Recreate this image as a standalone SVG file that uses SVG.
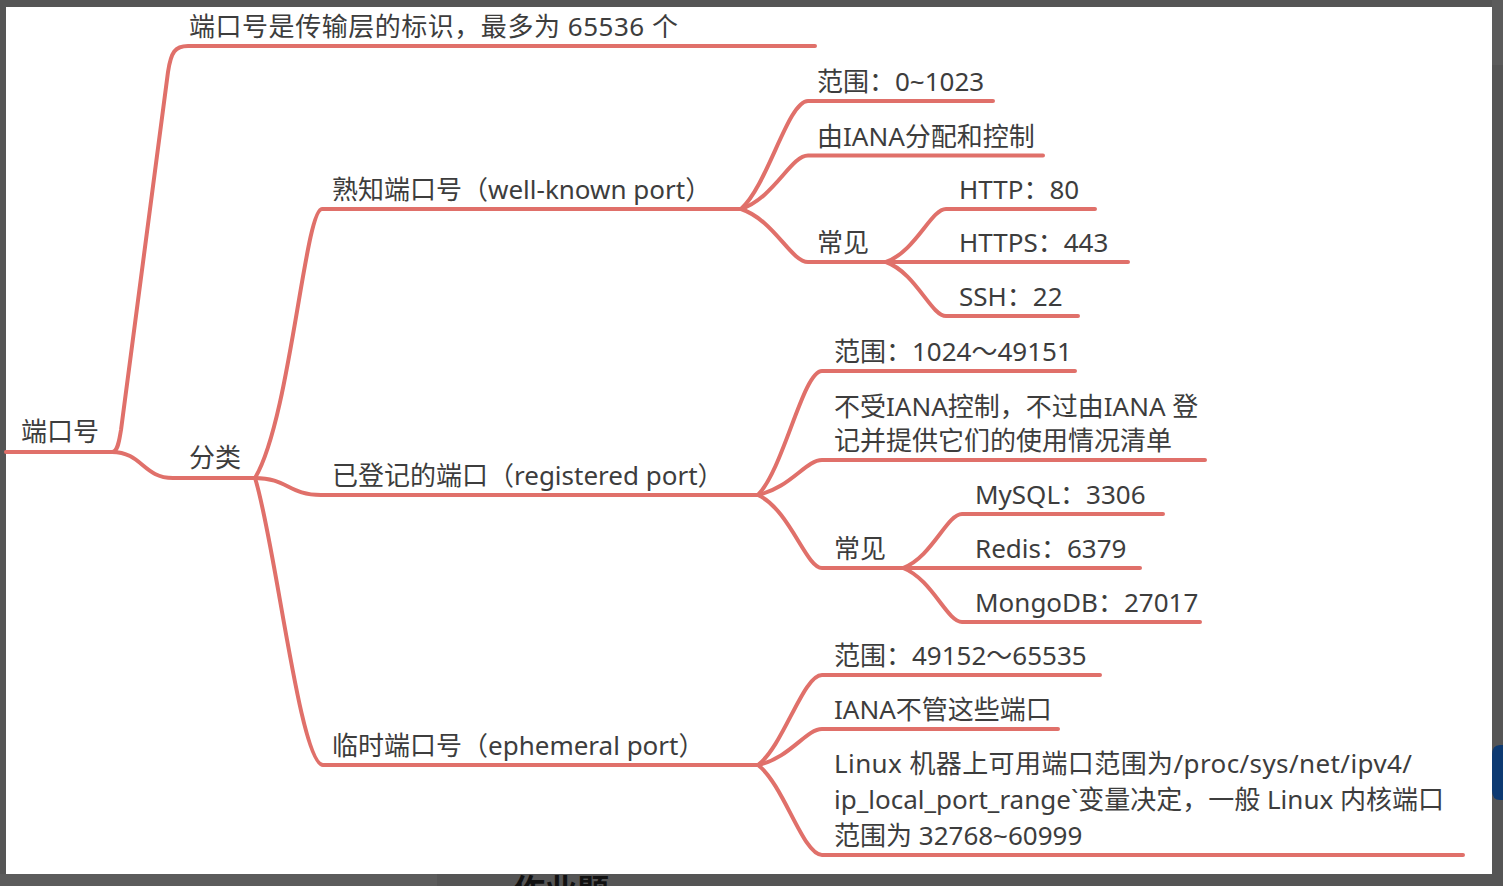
<svg xmlns="http://www.w3.org/2000/svg" width="1503" height="886" viewBox="0 0 1503 886">
<style>
.t{font-family:"Noto Sans","Noto Sans CJK SC",sans-serif;font-size:26px;fill:#3d3d3d}
.c{fill:none;stroke:#e0706a;stroke-width:4;stroke-linecap:round;stroke-linejoin:round}
</style>
<defs><clipPath id="bot"><rect x="440" y="874" width="300" height="12"/></clipPath></defs>
<g id="frame">
<rect x="0" y="0" width="1503" height="886" fill="#555555"/>
<rect x="1492" y="0" width="11" height="65" fill="#5b5b5b"/>
<rect x="0" y="874" width="437" height="12" fill="#5c5c5c"/>
<rect x="6" y="7" width="1486" height="867" fill="#ffffff"/>
<path d="M1503,745 L1500,745 Q1492,745 1492,755 L1492,790 Q1492,800 1500,800 L1503,800 Z" fill="#0d3a72"/>
<text x="513" y="902" clip-path="url(#bot)" style="font-family:'Noto Sans CJK SC',sans-serif;font-size:32px;font-weight:bold;fill:#111">作业题</text>
</g>
<g id="connectors" class="c">
<path d="M6,452 L112,452"/>
<path d="M112,452 C118,452 119,441 121,430 L168,72 C171,52 175,46 188,46 L815,46"/>
<path d="M112,452 C142,452 143,478 173,478 L255,478"/>
<path d="M255,478 C290,420 305,209 322,209 L741,209"/>
<path d="M255,478 C287,478 289,495 321,495 L758,495"/>
<path d="M255,478 C275,540 300,765 323,765 L758,765"/>
<path d="M741,209 C768,185 788,101 808,101 L993,101"/>
<path d="M741,209 C774,198 791,155.5 808,155.5 L1043,155.5"/>
<path d="M741,209 C774,220 791,262 808,262 L886,262"/>
<path d="M886,262 C916,251 931,209 946,209 L1095,209"/>
<path d="M886,262 L1128,262"/>
<path d="M886,262 C916,273 931,316 946,316 L1078,316"/>
<path d="M758,495 C784,468 803,371 822,371 L1075,371"/>
<path d="M758,495 C790,488 806,460 822,460 L1205,460"/>
<path d="M758,495 C790,510 806,568 822,568 L903,568"/>
<path d="M903,568 C932,557 947,514 962,514 L1163,514"/>
<path d="M903,568 L1140,568"/>
<path d="M903,568 C932,579 947,622 962,622 L1200,622"/>
<path d="M758,765 C784,745 803,675 822,675 L1100,675"/>
<path d="M758,765 C790,758 806,729 822,729 L1058,729"/>
<path d="M758,765 C784,785 803,855 822,855 L1463,855"/>
</g>
<g id="n-root"><text class="t" x="21" y="441">端口号</text></g>
<g id="n-def"><text class="t" x="189" y="36" textLength="489" lengthAdjust="spacing">端口号是传输层的标识，最多为 65536 个</text></g>
<g id="n-cat"><text class="t" x="189" y="467">分类</text></g>
<g id="n-wk"><text class="t" x="332" y="198.5">熟知端口号（well-known port）</text></g>
<g id="n-reg"><text class="t" x="332" y="485">已登记的端口（registered port）</text></g>
<g id="n-eph"><text class="t" x="332" y="755">临时端口号（ephemeral port）</text></g>
<g id="n-wk-range"><text class="t" x="817" y="91">范围：0~1023</text></g>
<g id="n-wk-iana"><text class="t" x="817" y="145.5">由IANA分配和控制</text></g>
<g id="n-wk-common"><text class="t" x="817" y="251.5">常见</text></g>
<g id="n-http"><text class="t" x="959" y="198.5">HTTP：80</text></g>
<g id="n-https"><text class="t" x="959" y="251.5">HTTPS：443</text></g>
<g id="n-ssh"><text class="t" x="959" y="305.5">SSH：22</text></g>
<g id="n-reg-range"><text class="t" x="834" y="360.5">范围：1024～49151</text></g>
<g id="n-reg-iana"><text class="t" x="834" y="415.5">不受IANA控制，不过由IANA 登</text><text class="t" x="834" y="449.5">记并提供它们的使用情况清单</text></g>
<g id="n-reg-common"><text class="t" x="834" y="557.5">常见</text></g>
<g id="n-mysql"><text class="t" x="975" y="503.5">MySQL：3306</text></g>
<g id="n-redis"><text class="t" x="975" y="557.5">Redis：6379</text></g>
<g id="n-mongo"><text class="t" x="975" y="611.5">MongoDB：27017</text></g>
<g id="n-eph-range"><text class="t" x="834" y="664.5">范围：49152～65535</text></g>
<g id="n-eph-iana"><text class="t" x="834" y="718.5">IANA不管这些端口</text></g>
<g id="n-eph-linux"><text class="t" x="834" y="772.5" textLength="578" lengthAdjust="spacing">Linux 机器上可用端口范围为/proc/sys/net/ipv4/</text><text class="t" x="834" y="808.5">ip_local_port_range`变量决定，一般 Linux 内核端口</text><text class="t" x="834" y="844.5">范围为 32768~60999</text></g>
</svg>
